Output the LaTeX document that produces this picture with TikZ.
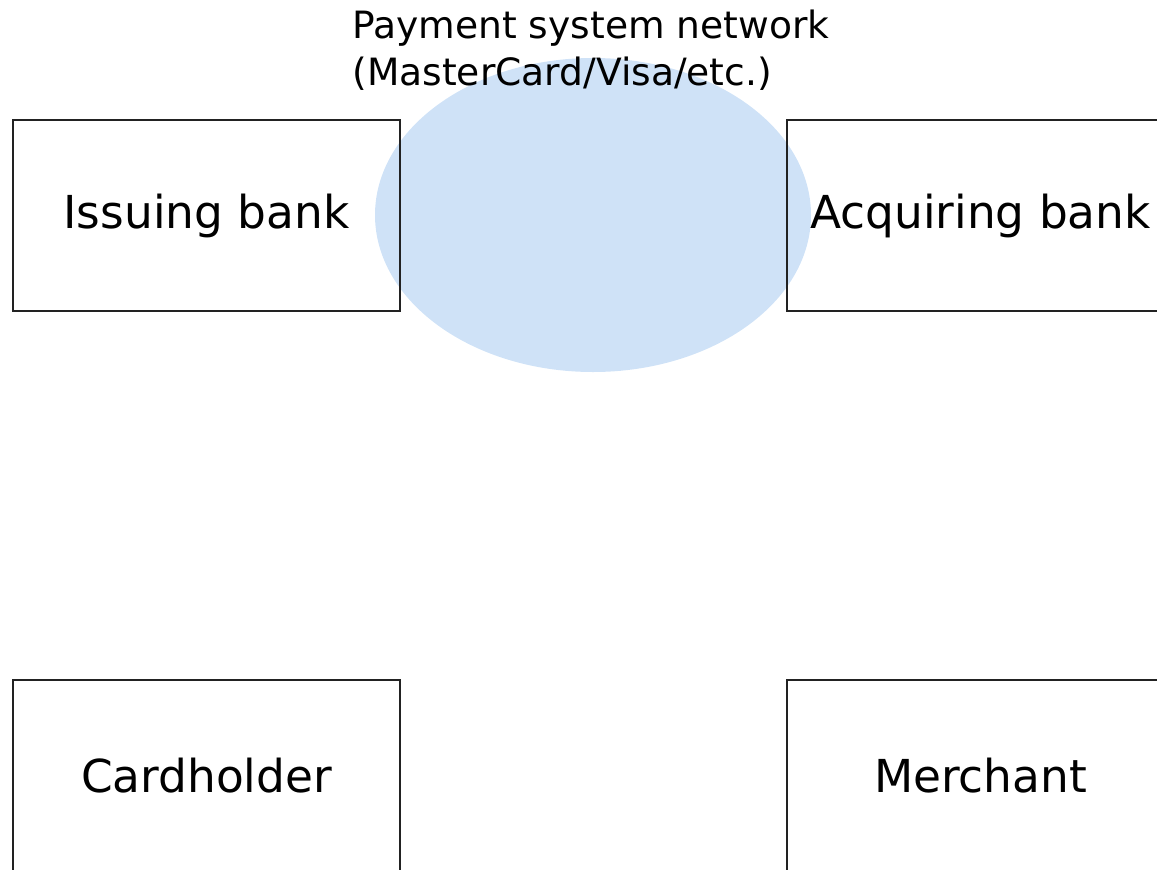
\documentclass[tikz,border=0pt]{standalone}
\usepackage{fontspec}
\setmainfont{DejaVu Sans}
\usetikzlibrary{shapes.geometric}
\definecolor{netfill}{HTML}{CFE2F7}
\definecolor{boxline}{HTML}{222222}

\tikzset{
  partybox/.style={draw=boxline, line width=0.9pt, minimum width=193.5pt, minimum height=95.5pt,
    inner sep=0pt, font=\fontsize{22.7}{27}\selectfont},
  netblob/.style={ellipse, fill=netfill, minimum width=218pt, minimum height=157pt, inner sep=0pt},
  netcaption/.style={anchor=north west, inner sep=0pt, align=left, font=\fontsize{18.8}{23.5}\selectfont}
}

\begin{document}
\begin{tikzpicture}[x=0.5pt, y=-0.5pt]
\useasboundingbox (0,0) rectangle (1157,869);
% payment network in the middle, under the boxes
\node[netblob] (network) at (593,215) {};
\node[netcaption] (netlabel) at (352,10) {Payment system network\\(MasterCard/Visa/etc.)};
% the four parties
\node[partybox] (issuer) at (206.5,215.5) {Issuing bank};
\node[partybox] (acquirer) at (980.5,215.5) {Acquiring bank};
\node[partybox] (cardholder) at (206.5,775.5) {Cardholder};
\node[partybox] (merchant) at (980.5,775.5) {Merchant};
\end{tikzpicture}
\end{document}
